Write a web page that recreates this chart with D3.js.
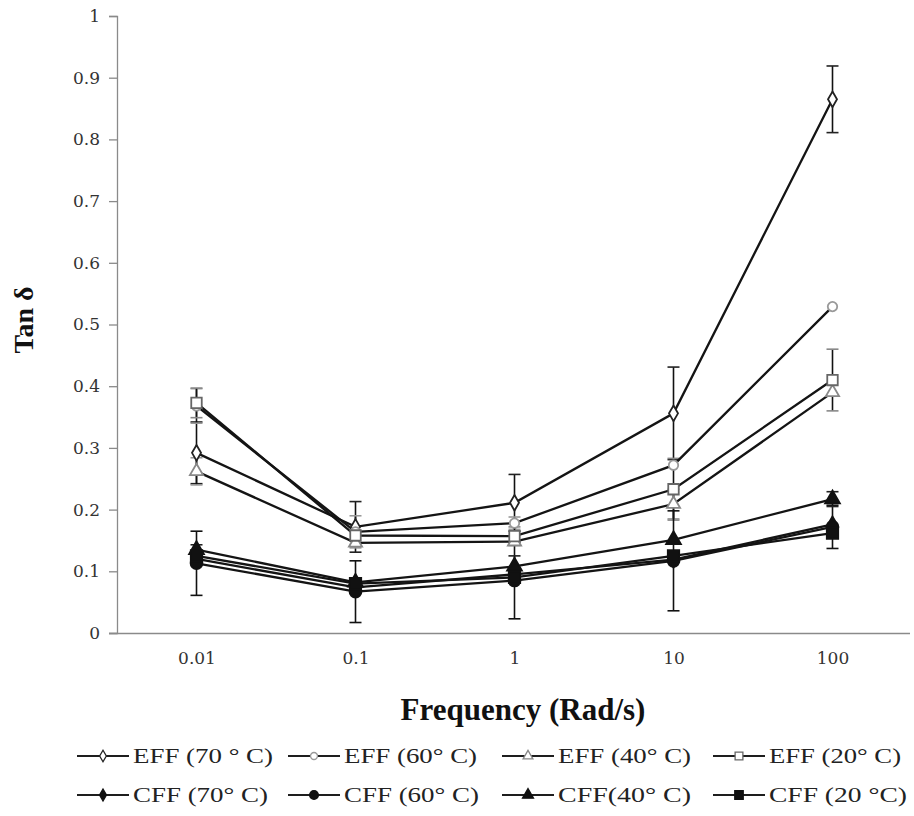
<!DOCTYPE html>
<html><head><meta charset="utf-8">
<script src="https://cdn.jsdelivr.net/npm/d3@7"></script>
<style>body{margin:0;background:#fff}svg{display:block}</style>
</head><body>
<svg id="c" width="914" height="816"></svg>
<script>
// ---- data ----
const frequencies = ["0.01", "0.1", "1", "10", "100"];
const yTicks = [0, 0.1, 0.2, 0.3, 0.4, 0.5, 0.6, 0.7, 0.8, 0.9, 1];
const seriesNames = ["EFF (70 ° C)", "EFF (60° C)", "EFF (40° C)", "EFF (20° C)",
                     "CFF (70° C)", "CFF (60° C)", "CFF(40° C)", "CFF  (20 °C)"];
const eff70 = [0.292, 0.172, 0.211, 0.356, 0.865];
const eff60 = [0.368, 0.164, 0.178, 0.272, 0.529];
const eff40 = [0.262, 0.146, 0.148, 0.209, 0.390];
const eff20 = [0.373, 0.158, 0.157, 0.233, 0.410];
const cff70 = [0.120, 0.074, 0.095, 0.119, 0.176];
const cff60 = [0.113, 0.067, 0.085, 0.117, 0.172];
const cff40 = [0.135, 0.082, 0.108, 0.151, 0.217];
const cff20 = [0.125, 0.080, 0.090, 0.125, 0.162];
// error bar half-widths (0 = none)
const eff70Err = [0.050, 0.041, 0.046, 0.075, 0.054];
const eff60Err = [0.028, 0.026, 0.010, 0, 0];
const eff40Err = [0.022, 0, 0, 0.024, 0];
const eff20Err = [0.024, 0, 0.015, 0.050, 0.050];
const cff70Err = [0, 0, 0, 0, 0];
const cff60Err = [0.052, 0.050, 0.062, 0.081, 0.035];
const cff40Err = [0.008, 0, 0.017, 0, 0.012];
const cff20Err = [0, 0, 0, 0, 0];

const values = [eff70, eff60, eff40, eff20, cff70, cff60, cff40, cff20];
const errors = [eff70Err, eff60Err, eff40Err, eff20Err, cff70Err, cff60Err, cff40Err, cff20Err];

// ---- styles ----
const markerStyle = [
  {type: d3.symbolDiamond, size: 70, fill: "#fff", stroke: "#222"},
  {type: d3.symbolCircle, size: 70, fill: "#fff", stroke: "#999"},
  {type: d3.symbolTriangle, size: 75, fill: "#fff", stroke: "#888"},
  {type: d3.symbolSquare, size: 110, fill: "#fff", stroke: "#666"},
  {type: d3.symbolDiamond, size: 75, fill: "#111", stroke: "#111"},
  {type: d3.symbolCircle, size: 110, fill: "#111", stroke: "#111"},
  {type: d3.symbolTriangle, size: 95, fill: "#111", stroke: "#111"},
  {type: d3.symbolSquare, size: 130, fill: "#111", stroke: "#111"}
];
const errColor = ["#222", "#999", "#999", "#888", "#111", "#111", "#222", "#111"];

const svg = d3.select("#c");
const mLeft = 117, mRight = 912, mTop = 16, mBottom = 633;

const x = d3.scalePoint().domain(frequencies).range([mLeft, mRight]).padding(0.5);
const y = d3.scaleLinear().domain([0, 1]).range([mBottom, mTop]);

// axes
const yAxis = svg.append("g").attr("transform", `translate(${mLeft},0)`)
  .call(d3.axisLeft(y).tickValues(yTicks).tickSize(8).tickPadding(9)
        .tickFormat(d => String(+d.toFixed(1))));
yAxis.select(".domain").attr("stroke", "#8a8a8a").attr("stroke-width", 1.3);
yAxis.selectAll(".tick line").attr("stroke", "#8a8a8a").attr("stroke-width", 1.3);
yAxis.selectAll("text").attr("font-family", "DejaVu Serif").attr("font-size", 17).attr("fill", "#333");

const xAxis = svg.append("g").attr("transform", `translate(0,${mBottom})`)
  .call(d3.axisBottom(x).tickSize(0).tickPadding(19));
xAxis.select(".domain").attr("d", `M${mLeft - 8},0.5H${mRight - 2}`)
  .attr("stroke", "#8a8a8a").attr("stroke-width", 1.5);
xAxis.selectAll("text").attr("font-family", "DejaVu Serif").attr("font-size", 17).attr("fill", "#333");

// error bars
values.forEach((vals, i) => {
  const g = svg.append("g");
  vals.forEach((v, j) => {
    const e = errors[i][j];
    if (!e) return;
    const cx = x(frequencies[j]);
    const y1 = y(v + e), y2 = y(v - e);
    g.append("line").attr("x1", cx).attr("x2", cx).attr("y1", y1).attr("y2", y2)
      .attr("stroke", "#111").attr("stroke-width", 1.6);
    [y1, y2].forEach(yy => g.append("line").attr("x1", cx - 6).attr("x2", cx + 6)
      .attr("y1", yy).attr("y2", yy).attr("stroke", errColor[i]).attr("stroke-width", 1.6));
  });
});

// lines
const line = d3.line().x((d, j) => x(frequencies[j])).y(d => y(d));
values.forEach((vals, i) => {
  svg.append("path").attr("d", line(vals)).attr("fill", "none")
    .attr("stroke", "#141414").attr("stroke-width", 2.3);
});

// markers
values.forEach((vals, i) => {
  const m = markerStyle[i];
  svg.append("g").selectAll("path").data(vals).join("path")
    .attr("transform", (d, j) => `translate(${x(frequencies[j])},${y(d)})`)
    .attr("d", d3.symbol().type(m.type).size(m.size))
    .attr("fill", m.fill).attr("stroke", m.stroke).attr("stroke-width", 1.8);
});

// axis titles
svg.append("text").attr("x", 523).attr("y", 720).attr("text-anchor", "middle")
  .attr("font-family", "Liberation Serif").attr("font-weight", "bold").attr("font-size", 31)
  .attr("fill", "#111").text("Frequency (Rad/s)");
svg.append("text").attr("transform", "translate(33,320) rotate(-90)").attr("text-anchor", "middle")
  .attr("font-family", "Liberation Serif").attr("font-weight", "bold").attr("font-size", 28)
  .attr("fill", "#111").text("Tan δ");

// legend
const legCols = [77, 288, 502, 713];
const legRows = [756, 795];
const legTextW = [140, 133, 133, 132, 135, 135, 133, 138];
seriesNames.forEach((name, i) => {
  const col = i % 4, row = Math.floor(i / 4);
  const lx = legCols[col], ly = legRows[row];
  const g = svg.append("g");
  g.append("line").attr("x1", lx).attr("x2", lx + 52).attr("y1", ly).attr("y2", ly)
    .attr("stroke", "#1e1e1e").attr("stroke-width", 2);
  const m = markerStyle[i];
  g.append("path").attr("transform", `translate(${lx + 26},${ly})`)
    .attr("d", d3.symbol().type(m.type).size(m.size * 0.55))
    .attr("fill", m.fill).attr("stroke", m.stroke).attr("stroke-width", 1.3);
  g.append("text").attr("x", lx + 56).attr("y", ly + 7)
    .attr("font-family", "Liberation Serif").attr("font-size", 21).attr("fill", "#222")
    .attr("textLength", legTextW[i]).attr("lengthAdjust", "spacingAndGlyphs")
    .text(name);
});
</script>
</body></html>
